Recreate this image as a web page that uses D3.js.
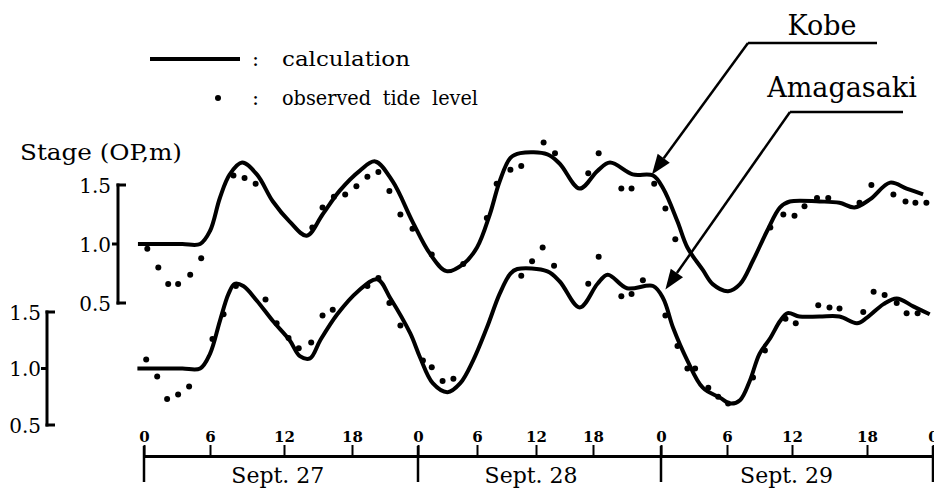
<!DOCTYPE html>
<html>
<head>
<meta charset="utf-8">
<script src="https://cdn.jsdelivr.net/npm/d3@7"></script>
<style>
  body { margin: 0; background: #fff; }
  svg text { font-family: "DejaVu Serif", serif; fill: #000; }
</style>
</head>
<body>
<div id="chart"></div>
<script>
// hours from Sept. 27 0h, stage in m (OP)
var hourTicks = [0, 6, 12, 18, 24, 30, 36, 42, 48, 54, 60, 66, 72];
var tickLabels = ["0", "6", "12", "18", "0", "6", "12", "18", "0", "6", "12", "18", "0"];
var dayStarts = [0, 24, 48, 72];
var dayLabels = ["Sept. 27", "Sept. 28", "Sept. 29"];
var stageTicks = [0.5, 1.0, 1.5];

var kobeCalc = [[-0.55,1.00],[1.5,1.00],[3.5,1.00],[5.1,1.00],[6.0,1.11],[6.8,1.39],[7.6,1.59],[8.6,1.69],[9.8,1.59],[11.1,1.36],
  [12.5,1.19],[14.0,1.07],[15.4,1.25],[16.9,1.45],[18.7,1.62],[20.1,1.70],[21.7,1.53],[23.5,1.19],[25.2,0.92],
  [26.9,0.77],[28.6,0.83],[30.0,0.97],[31.3,1.25],[32.3,1.53],[33.4,1.73],[34.4,1.77],[37.2,1.76],[38.5,1.68],
  [40.6,1.47],[42.4,1.62],[43.5,1.69],[45.5,1.59],[47.3,1.58],[48.2,1.47],[49.5,1.19],[50.4,0.97],[51.8,0.78],
  [52.7,0.66],[54.1,0.60],[55.2,0.66],[56.4,0.86],[57.7,1.11],[58.9,1.31],[59.8,1.36],[62.2,1.36],[63.8,1.35],
  [65.0,1.31],[66.3,1.38],[68.1,1.52],[69.6,1.47],[71.1,1.42]];
var kobeObs = [[0.3,0.96],[1.3,0.80],[2.2,0.66],[3.1,0.66],[4.2,0.74],[5.2,0.88],[7.9,1.58],[8.8,1.56],[9.7,1.51],
  [14.5,1.14],[15.4,1.31],[16.4,1.40],[17.4,1.42],[18.4,1.49],[19.4,1.57],[20.4,1.61],[21.4,1.45],[22.4,1.25],
  [23.5,1.13],[25.4,0.91],[28.6,0.83],[31.0,1.22],[32.0,1.51],[33.4,1.63],[34.5,1.66],[36.8,1.86],[38.0,1.77],
  [41.5,1.60],[42.5,1.77],[44.5,1.47],[45.4,1.47],[47.4,1.51],[48.4,1.30],[49.3,1.04],[58.0,1.14],[59.2,1.25],
  [60.2,1.24],[61.0,1.32],[62.0,1.39],[62.9,1.39],[65.4,1.35],[66.4,1.50],[68.4,1.42],[69.5,1.36],[70.4,1.35],
  [71.4,1.35]];
var amaCalc = [[-0.6,1.00],[1.5,1.00],[3.5,1.00],[5.1,1.00],[6.0,1.13],[6.8,1.42],[7.5,1.66],[8.0,1.75],[8.7,1.73],[9.8,1.60],[11.1,1.42],
  [12.5,1.25],[13.4,1.11],[14.3,1.09],[15.2,1.25],[16.7,1.48],[18.5,1.68],[20.3,1.79],[21.5,1.62],[23.3,1.31],
  [24.2,1.10],[25.5,0.87],[27.0,0.79],[28.3,0.87],[29.6,1.07],[31.0,1.36],[32.3,1.66],[33.4,1.84],[34.1,1.88],
  [37.2,1.86],[38.5,1.77],[40.6,1.54],[42.4,1.75],[43.3,1.83],[45.0,1.71],[47.3,1.73],[48.2,1.62],[49.1,1.36],
  [50.4,1.07],[51.8,0.83],[53.4,0.74],[54.3,0.69],[55.2,0.72],[56.1,0.89],[57.0,1.13],[58.0,1.27],[58.9,1.42],
  [59.6,1.49],[60.6,1.46],[62.2,1.46],[63.8,1.46],[65.2,1.40],[66.0,1.45],[67.5,1.57],[68.7,1.62],[70.2,1.55],
  [71.7,1.48]];
var amaObs = [[0.2,1.08],[1.2,0.93],[2.1,0.73],[3.1,0.77],[4.1,0.84],[6.2,1.26],[7.1,1.48],[8.1,1.73],[10.5,1.61],
  [11.4,1.40],[12.4,1.27],[13.3,1.18],[14.4,1.23],[15.4,1.47],[16.3,1.52],[19.4,1.73],[20.4,1.80],[21.4,1.58],
  [22.4,1.38],[24.5,1.07],[25.4,1.01],[26.5,0.89],[27.6,0.91],[34.5,1.82],[35.6,1.95],[36.7,2.07],[37.9,1.91],
  [41.5,1.75],[42.5,1.99],[44.5,1.64],[45.4,1.66],[46.4,1.78],[48.4,1.47],[49.5,1.20],[50.4,1.00],[51.1,1.00],
  [52.3,0.83],[53.2,0.75],[54.1,0.69],[56.4,0.92],[57.5,1.16],[59.4,1.44],[60.3,1.40],[62.1,1.56],[63.0,1.54],
  [63.8,1.53],[65.7,1.50],[66.6,1.68],[67.6,1.65],[68.7,1.58],[69.6,1.49],[70.6,1.49]];

var width = 934, height = 490;
var svg = d3.select("#chart").append("svg")
  .attr("width", width)
  .attr("height", height);
svg.append("rect").attr("width", width).attr("height", height).attr("fill", "#fff");

// hand drawn time axis is not quite even, so the scale follows the ticks
var x = d3.scaleLinear()
  .domain(hourTicks)
  .range([144, 210, 284, 352, 418, 477, 536, 593, 661, 727, 792, 867, 933]);
var yK = d3.scaleLinear().domain([0.5, 1.5]).range([303, 185]);
var yA = d3.scaleLinear().domain([0.5, 1.5]).range([425, 312]);

// x axis
var axisY = 456;
var xAxis = d3.axisTop(x)
  .tickValues(hourTicks)
  .tickSize(11)
  .tickSizeOuter(0)
  .tickPadding(3)
  .tickFormat(function (d, i) { return tickLabels[i]; });
var gx = svg.append("g")
  .attr("transform", "translate(0," + axisY + ")")
  .call(xAxis);
gx.select(".domain").attr("stroke", "#000").attr("stroke-width", 3);
gx.selectAll(".tick line").attr("stroke", "#000").attr("stroke-width", 2);
gx.selectAll(".tick text")
  .style("font-family", "'DejaVu Serif', serif")
  .style("font-size", "15px")
  .style("font-weight", "bold")
  .attr("fill", "#000");

svg.selectAll(".day-tick")
  .data(dayStarts)
  .enter()
  .append("line")
  .attr("class", "day-tick")
  .attr("x1", function (d) { return x(d); })
  .attr("x2", function (d) { return x(d); })
  .attr("y1", 446)
  .attr("y2", 482)
  .attr("stroke", "#000")
  .attr("stroke-width", 2.5);

svg.selectAll(".day-label")
  .data(dayLabels)
  .enter()
  .append("text")
  .attr("class", "day-label")
  .attr("x", function (d, i) { return x(i * 24 + 11.5); })
  .attr("y", 483)
  .attr("text-anchor", "middle")
  .style("font-size", "22px")
  .text(function (d) { return d; });

// stage axes, bracket style
function stageAxis(scale, ax, labelRight) {
  var g = svg.append("g");
  g.append("line")
    .attr("x1", ax).attr("x2", ax)
    .attr("y1", scale(0.5) + 1.5).attr("y2", scale(1.5) - 1.5)
    .attr("stroke", "#000").attr("stroke-width", 3);
  g.selectAll("line.t")
    .data(stageTicks)
    .enter()
    .append("line")
    .attr("class", "t")
    .attr("x1", function (d) { return d === 1.0 ? ax - 6 : ax - 1.5; })
    .attr("x2", function (d) { return d === 1.0 ? ax : ax + 8; })
    .attr("y1", function (d) { return scale(d); })
    .attr("y2", function (d) { return scale(d); })
    .attr("stroke", "#000").attr("stroke-width", 3);
  g.selectAll("text")
    .data(stageTicks)
    .enter()
    .append("text")
    .attr("x", labelRight)
    .attr("y", function (d) { return scale(d); })
    .attr("dy", "0.38em")
    .attr("text-anchor", "end")
    .style("font-size", "20px")
    .text(function (d) { return d3.format(".1f")(d); });
}
stageAxis(yK, 118, 111);
stageAxis(yA, 47, 41);

svg.append("text")
  .attr("x", 20).attr("y", 160)
  .style("font-size", "22px")
  .attr("textLength", 162)
  .attr("lengthAdjust", "spacingAndGlyphs")
  .text("Stage (OP,m)");

// curves and observations
var lineK = d3.line()
  .x(function (d) { return x(d[0]); })
  .y(function (d) { return yK(d[1]); })
  .curve(d3.curveCatmullRom.alpha(0.5));
var lineA = d3.line()
  .x(function (d) { return x(d[0]); })
  .y(function (d) { return yA(d[1]); })
  .curve(d3.curveCatmullRom.alpha(0.5));

svg.append("path").datum(kobeCalc)
  .attr("d", lineK)
  .attr("fill", "none").attr("stroke", "#000").attr("stroke-width", 4)
  .attr("stroke-linejoin", "round");
svg.append("path").datum(amaCalc)
  .attr("d", lineA)
  .attr("fill", "none").attr("stroke", "#000").attr("stroke-width", 4)
  .attr("stroke-linejoin", "round");

svg.selectAll(".obsK")
  .data(kobeObs)
  .enter()
  .append("circle")
  .attr("class", "obsK")
  .attr("cx", function (d) { return x(d[0]); })
  .attr("cy", function (d) { return yK(d[1]); })
  .attr("r", 3)
  .attr("fill", "#000");
svg.selectAll(".obsA")
  .data(amaObs)
  .enter()
  .append("circle")
  .attr("class", "obsA")
  .attr("cx", function (d) { return x(d[0]); })
  .attr("cy", function (d) { return yA(d[1]); })
  .attr("r", 3)
  .attr("fill", "#000");

// legend
svg.append("line")
  .attr("x1", 150).attr("x2", 240).attr("y1", 59).attr("y2", 59)
  .attr("stroke", "#000").attr("stroke-width", 4);
svg.append("circle").attr("cx", 218).attr("cy", 98).attr("r", 3).attr("fill", "#000");
svg.append("text").attr("x", 252).attr("y", 66).style("font-size", "21px").text(":");
svg.append("text").attr("x", 252).attr("y", 105).style("font-size", "21px").text(":");
svg.append("text").attr("x", 282).attr("y", 66)
  .style("font-size", "21px")
  .attr("textLength", 128).attr("lengthAdjust", "spacingAndGlyphs")
  .text("calculation");
svg.append("text").attr("x", 282).attr("y", 105)
  .style("font-size", "21px")
  .attr("textLength", 196).attr("lengthAdjust", "spacingAndGlyphs")
  .style("word-spacing", "6px")
  .text("observed tide level");

// station labels with leader arrows
function station(name, tx, ty, size, x0, x1, uy, tip) {
  svg.append("text")
    .attr("x", tx).attr("y", ty)
    .attr("text-anchor", "middle")
    .style("font-size", size + "px")
    .text(name);
  svg.append("line")
    .attr("x1", x0).attr("x2", x1).attr("y1", uy).attr("y2", uy)
    .attr("stroke", "#000").attr("stroke-width", 2.5);
  var ang = Math.atan2(tip[1] - uy, tip[0] - x0);
  var len = 20, hw = 7.5;
  var bx = tip[0] - len * Math.cos(ang), by = tip[1] - len * Math.sin(ang);
  svg.append("line")
    .attr("x1", x0).attr("y1", uy).attr("x2", bx).attr("y2", by)
    .attr("stroke", "#000").attr("stroke-width", 2.5);
  var px = -Math.sin(ang) * hw, py = Math.cos(ang) * hw;
  svg.append("polygon")
    .attr("points", [tip, [bx + px, by + py], [bx - px, by - py]].map(function (p) { return p.join(","); }).join(" "))
    .attr("fill", "#000");
}
station("Kobe", 822, 35, 27, 748, 877, 43, [x(47.2), yK(1.59)]);
station("Amagasaki", 842, 97, 27, 790, 903, 112, [x(48.4), yA(1.70)]);
</script>
</body>
</html>
